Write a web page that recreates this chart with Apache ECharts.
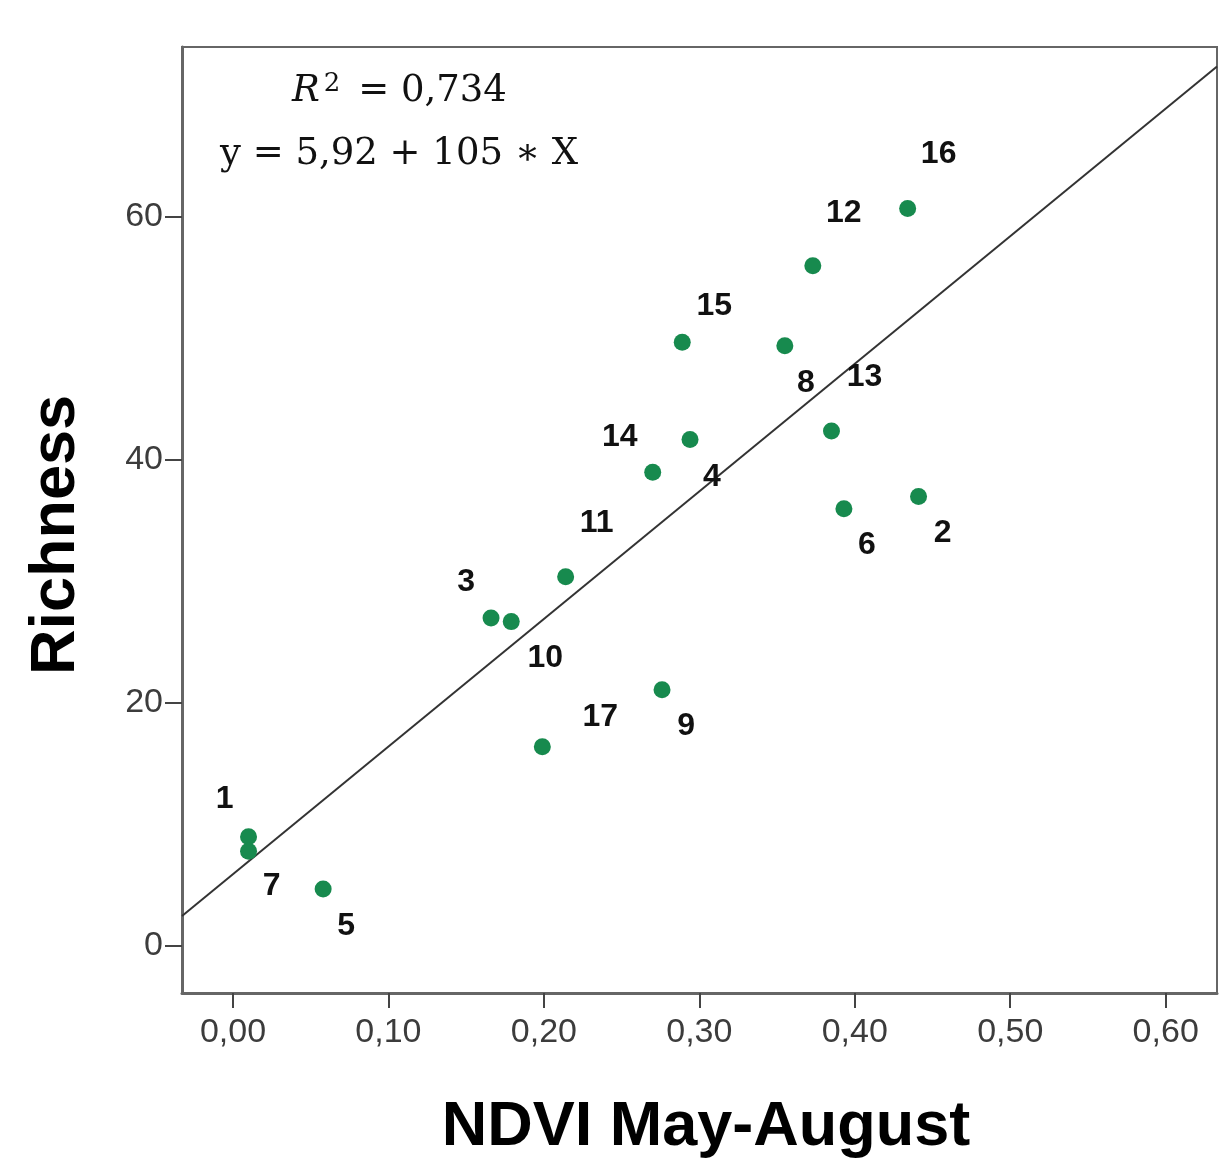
<!DOCTYPE html>
<html>
<head>
<meta charset="utf-8">
<script src="https://cdn.jsdelivr.net/npm/echarts@6/dist/echarts.min.js"></script>
<style>
  html, body { margin: 0; padding: 0; background: #fff; }
  #chart { width: 1219px; height: 1161px; }
</style>
</head>
<body>
<div id="chart"></div>
<script>
// site ids, NDVI (May-August) and species richness
const siteIds = ['1', '7', '5', '3', '10', '11', '17', '9', '14', '4', '15', '8', '12', '16', '13', '6', '2']
const ndvi = [0.010, 0.010, 0.058, 0.166, 0.179, 0.214, 0.199, 0.276, 0.270, 0.294, 0.289, 0.355, 0.373, 0.434, 0.385, 0.393, 0.441]
const richness = [9.0, 7.8, 4.7, 27.0, 26.7, 30.4, 16.4, 21.1, 39.0, 41.7, 49.7, 49.4, 56.0, 60.7, 42.4, 36.0, 37.0]

// fitted line y = 5,92 + 105 * X, end points at the frame edges
const fitX = [-0.0328, 0.633]
const fitY = [2.47, 72.4]

const xTicks = [0, 0.1, 0.2, 0.3, 0.4, 0.5, 0.6]
const yTicks = [0, 20, 40, 60]

// where each site number sits relative to its dot (px)
const labelOffsets = {
  '1': [-24, -37], '7': [23, 35], '5': [23, 37], '3': [-25, -36], '10': [34, 37],
  '11': [31, -54], '17': [58, -30], '9': [24, 37], '14': [-33, -35], '4': [22, 38],
  '15': [32, -36], '8': [21, 37], '12': [31, -53], '16': [31, -54], '13': [33, -54],
  '6': [23, 37], '2': [24, 37]
}

const chart = echarts.init(document.getElementById('chart'))

const axisColor = '#666'
const tickFont = { color: '#3c3c3c', fontSize: 34, fontFamily: 'Liberation Sans, Arial, sans-serif' }

const points = siteIds.map((id, i) => ({
  value: [ndvi[i], richness[i]],
  name: id,
  label: { offset: labelOffsets[id] }
}))

chart.setOption({
  animation: false,
  backgroundColor: '#fff',
  grid: {
    left: 182, right: 2, top: 47, bottom: 168,
    show: true, borderColor: axisColor, borderWidth: 2
  },
  xAxis: {
    type: 'value',
    min: -0.0328,
    max: 0.633,
    splitLine: { show: false },
    axisLine: { show: true, onZero: false, lineStyle: { color: axisColor, width: 3 } },
    axisTick: { show: true, length: 15, customValues: xTicks, lineStyle: { color: '#444', width: 2 } },
    axisLabel: {
      ...tickFont,
      margin: 23,
      customValues: xTicks,
      formatter: v => v.toFixed(2).replace('.', ',')
    }
  },
  yAxis: {
    type: 'value',
    min: -3.87,
    max: 74,
    splitLine: { show: false },
    axisLine: { show: true, onZero: false, lineStyle: { color: axisColor, width: 3 } },
    axisTick: { show: true, length: 17, customValues: yTicks, lineStyle: { color: '#444', width: 2 } },
    axisLabel: { ...tickFont, margin: 19, customValues: yTicks }
  },
  series: [
    {
      type: 'line',
      data: fitX.map((x, i) => [x, fitY[i]]),
      symbol: 'none',
      clip: true,
      lineStyle: { color: '#333', width: 2 },
      z: 1
    },
    {
      type: 'scatter',
      data: points,
      symbolSize: 17,
      itemStyle: { color: '#178a4e', opacity: 1 },
      label: {
        show: true,
        position: 'inside',
        align: 'center',
        verticalAlign: 'middle',
        formatter: p => p.name,
        color: '#111',
        opacity: 1,
        fontSize: 32,
        fontWeight: 'bold',
        fontFamily: 'Liberation Sans, Arial, sans-serif'
      },
      z: 3
    }
  ],
  graphic: [
    {
      type: 'text',
      left: 292,
      top: 71,
      style: {
        text: '{i|R}{sup|2}{n| = 0,734}',
        rich: {
          i: { fontFamily: 'DejaVu Serif', fontStyle: 'italic', fontSize: 37, fill: '#111' },
          sup: { fontFamily: 'DejaVu Serif', fontSize: 26, fill: '#111', verticalAlign: 'top', padding: [0, 6, 14, 4] },
          n: { fontFamily: 'DejaVu Serif', fontSize: 37, fill: '#111' }
        }
      }
    },
    {
      type: 'text',
      left: 220,
      top: 136,
      style: {
        text: 'y = 5,92 + 105 ∗ X',
        fontFamily: 'DejaVu Serif',
        fontSize: 37,
        fill: '#111'
      }
    },
    {
      type: 'text',
      x: 57,
      y: 535,
      rotation: Math.PI / 2,
      style: {
        text: 'Richness',
        fontFamily: 'Liberation Sans, Arial, sans-serif',
        fontWeight: 'bold',
        fontSize: 63,
        fill: '#000',
        align: 'center',
        verticalAlign: 'middle'
      }
    },
    {
      type: 'text',
      x: 706,
      y: 1128,
      style: {
        text: 'NDVI May-August',
        fontFamily: 'Liberation Sans, Arial, sans-serif',
        fontWeight: 'bold',
        fontSize: 63,
        fill: '#000',
        align: 'center',
        verticalAlign: 'middle'
      }
    }
  ]
})
</script>
</body>
</html>
